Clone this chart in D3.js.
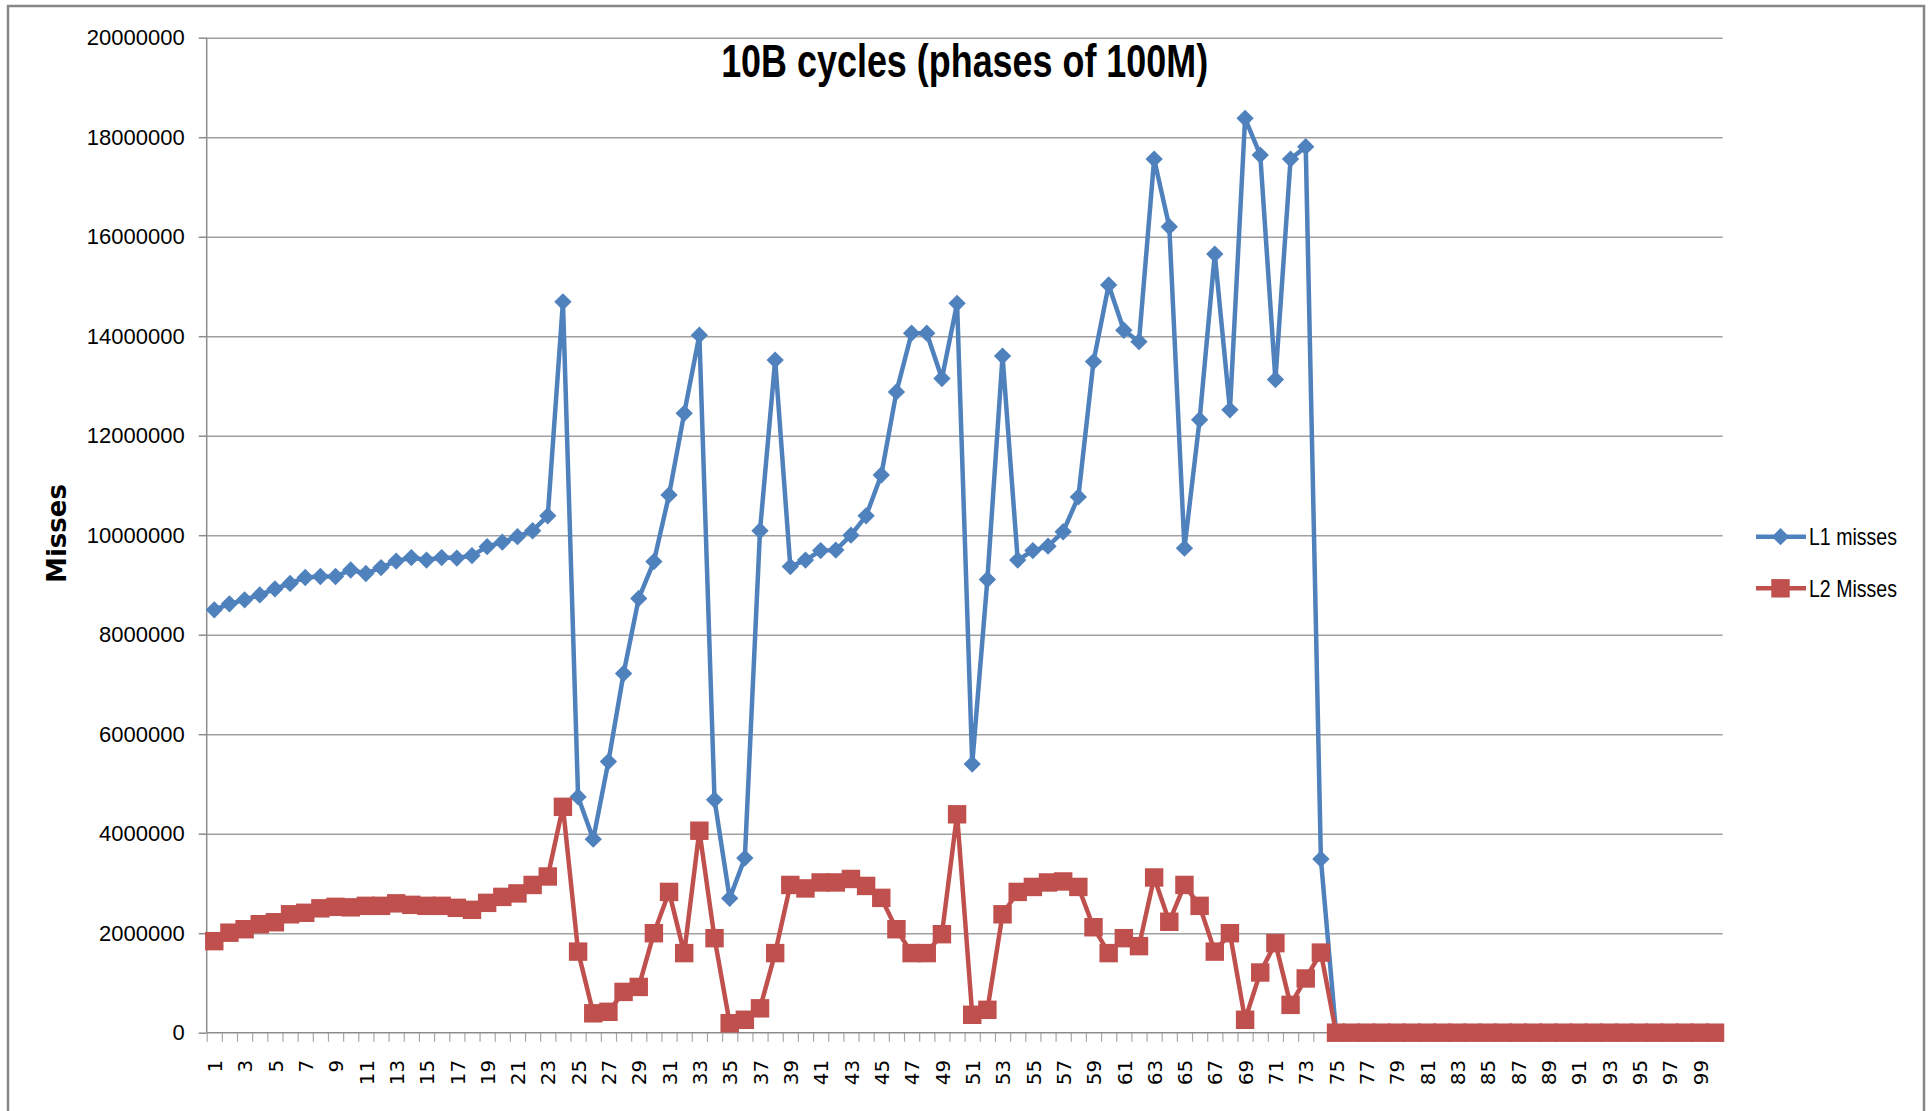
<!DOCTYPE html>
<html lang="en">
<head>
<meta charset="utf-8">
<title>10B cycles (phases of 100M)</title>
<script src="https://d3js.org/d3.v7.min.js"></script>
<style>
  body { margin: 0; background: #fff; }
  svg { display: block; background: #fff; }
  .grid line { stroke: #a0a0a0; stroke-width: 1.5px; }
  .grid .domain { display: none; }
  .yaxis text { font-family: "Liberation Sans", Arial, sans-serif; font-size: 22px; fill: #000; }
  .xaxis text { font-family: "DejaVu Sans", Verdana, sans-serif; font-size: 20px; fill: #000; }
  .axis-line { stroke: #8c8c8c; stroke-width: 1.5px; }
  .title { font-family: "Liberation Sans", Arial, sans-serif; font-size: 46px; font-weight: bold; }
  .ytitle { font-family: "DejaVu Sans", Verdana, sans-serif; font-size: 26px; font-weight: bold; }
  .legend text { font-family: "Liberation Sans", Arial, sans-serif; font-size: 24px; }
</style>
</head>
<body>
<svg width="1931" height="1111"></svg>
<script>
// phases (x categories) 1..100
const phases = d3.range(1, 101);

// L1 misses per phase
const l1Misses = [
  8500000, 8620000, 8700000, 8800000, 8920000, 9030000, 9150000, 9170000, 9170000, 9300000,
  9230000, 9350000, 9480000, 9550000, 9500000, 9550000, 9540000, 9590000, 9770000, 9860000,
  9970000, 10090000, 10390000, 14690000, 4740000, 3890000, 5450000, 7220000, 8730000, 9470000,
  10810000, 12450000, 14020000, 4680000, 2700000, 3510000, 10090000, 13520000, 9370000, 9500000,
  9690000, 9700000, 10000000, 10390000, 11210000, 12880000, 14060000, 14060000, 13150000, 14660000,
  5400000, 9110000, 13600000, 9500000, 9690000, 9780000, 10070000, 10770000, 13490000, 15030000,
  14120000, 13890000, 17560000, 16200000, 9740000, 12320000, 15650000, 12520000, 18380000, 17640000,
  13130000, 17560000, 17810000, 3490000, 0, 0, 0, 0, 0, 0,
  0, 0, 0, 0, 0, 0, 0, 0, 0, 0,
  0, 0, 0, 0, 0, 0, 0, 0, 0, 0
];

// L2 misses per phase
const l2Misses = [
  1840000, 2010000, 2080000, 2180000, 2220000, 2380000, 2410000, 2500000, 2530000, 2520000,
  2550000, 2550000, 2600000, 2570000, 2550000, 2550000, 2510000, 2470000, 2610000, 2730000,
  2800000, 2970000, 3140000, 4540000, 1630000, 390000, 420000, 820000, 920000, 2000000,
  2830000, 1600000, 4060000, 1900000, 190000, 260000, 490000, 1600000, 2970000, 2900000,
  3020000, 3020000, 3090000, 2950000, 2710000, 2080000, 1600000, 1600000, 1980000, 4390000,
  360000, 460000, 2380000, 2830000, 2930000, 3020000, 3040000, 2930000, 2120000, 1600000,
  1900000, 1740000, 3120000, 2230000, 2970000, 2550000, 1630000, 2000000, 260000, 1210000,
  1800000, 560000, 1090000, 1610000, 0, 0, 0, 0, 0, 0,
  0, 0, 0, 0, 0, 0, 0, 0, 0, 0,
  0, 0, 0, 0, 0, 0, 0, 0, 0, 0
];

const yTicks = [0, 2000000, 4000000, 6000000, 8000000, 10000000, 12000000, 14000000, 16000000, 18000000, 20000000];
const seriesNames = ["L1 misses", "L2 Misses"];
const seriesColors = ["#4f81bd", "#c0504d"];

const svg = d3.select("svg");
const plotLeft = 206.7, plotRight = 1722.6, plotTop = 37.7, plotBottom = 1032.7;

// chart frame
svg.append("rect")
   .attr("x", 8).attr("y", 6)
   .attr("width", 1916).attr("height", 1130)
   .attr("fill", "none")
   .attr("stroke", "#868686")
   .attr("stroke-width", 2.5);

const x = d3.scaleLinear().domain([0.5, 100.5]).range([plotLeft, plotRight]);
const y = d3.scaleLinear().domain([0, 20000000]).range([plotBottom, plotTop]);

// gridlines
svg.append("g")
   .attr("class", "grid")
   .attr("transform", `translate(${plotLeft},0)`)
   .call(d3.axisLeft(y).tickValues(yTicks.slice(1)).tickSize(-(plotRight - plotLeft)).tickFormat(""));

// y axis
const yAxis = svg.append("g")
   .attr("class", "yaxis")
   .attr("transform", `translate(${plotLeft},0)`)
   .call(d3.axisLeft(y).tickValues(yTicks).tickSize(8).tickPadding(14).tickFormat(d3.format("d")));
yAxis.select(".domain").remove();
yAxis.selectAll(".tick line").attr("stroke", "#8c8c8c").attr("stroke-width", 1.5);

svg.append("line").attr("class", "axis-line")
   .attr("x1", plotLeft).attr("x2", plotLeft).attr("y1", plotTop).attr("y2", plotBottom);

// x axis: tick marks at category boundaries
const xTicks = svg.append("g")
   .attr("transform", `translate(0,${plotBottom})`)
   .call(d3.axisBottom(x).tickValues(d3.range(0.5, 101, 1)).tickSize(9).tickFormat(""));
xTicks.select(".domain").remove();
xTicks.selectAll(".tick line").attr("stroke", "#a6a6a6").attr("stroke-width", 1.2);

// x labels, every other phase
const xLabels = svg.append("g")
   .attr("class", "xaxis")
   .attr("transform", `translate(0,${plotBottom})`)
   .call(d3.axisBottom(x).tickValues(phases.filter(d => d % 2 === 1)).tickSize(0).tickFormat(d3.format("d")));
xLabels.select(".domain").remove();
xLabels.selectAll(".tick text")
   .attr("transform", "rotate(-90)")
   .attr("text-anchor", "end")
   .attr("x", -27)
   .attr("y", 0)
   .attr("dy", "0.36em");

svg.append("line").attr("class", "axis-line")
   .attr("x1", plotLeft).attr("x2", plotRight).attr("y1", plotBottom).attr("y2", plotBottom);

// series
const line = d3.line().x((d, i) => x(phases[i])).y(d => y(d));
const diamond = d3.symbol(d3.symbolSquare, 150);
const square = d3.symbol(d3.symbolSquare, 340);

svg.append("path")
   .datum(l1Misses)
   .attr("d", line)
   .attr("fill", "none")
   .attr("stroke", seriesColors[0])
   .attr("stroke-width", 4.5)
   .attr("stroke-linejoin", "round");

svg.append("g").selectAll("path")
   .data(l1Misses)
   .join("path")
   .attr("d", diamond)
   .attr("transform", (d, i) => `translate(${x(phases[i])},${y(d)}) rotate(45)`)
   .attr("fill", seriesColors[0]);

svg.append("path")
   .datum(l2Misses)
   .attr("d", line)
   .attr("fill", "none")
   .attr("stroke", seriesColors[1])
   .attr("stroke-width", 4.5)
   .attr("stroke-linejoin", "round");

svg.append("g").selectAll("path")
   .data(l2Misses)
   .join("path")
   .attr("d", square)
   .attr("transform", (d, i) => `translate(${x(phases[i])},${y(d)})`)
   .attr("fill", seriesColors[1]);

// title
svg.append("text")
   .attr("class", "title")
   .attr("x", (plotLeft + plotRight) / 2)
   .attr("y", 77)
   .attr("text-anchor", "middle")
   .attr("textLength", 487)
   .attr("lengthAdjust", "spacingAndGlyphs")
   .text("10B cycles (phases of 100M)");

// y axis title
svg.append("text")
   .attr("class", "ytitle")
   .attr("transform", "translate(66,533.5) rotate(-90)")
   .attr("text-anchor", "middle")
   .text("Misses");

// legend
const legend = svg.append("g").attr("class", "legend");
const legendY = [536.7, 588.3];
seriesNames.forEach((name, i) => {
  const g = legend.append("g").attr("transform", `translate(1756,${legendY[i]})`);
  g.append("line")
   .attr("x1", 0).attr("x2", 50)
   .attr("stroke", seriesColors[i])
   .attr("stroke-width", 4.5);
  g.append("path")
   .attr("d", i === 0 ? diamond : square)
   .attr("transform", i === 0 ? "translate(24.5,0) rotate(45)" : "translate(24.5,0)")
   .attr("fill", seriesColors[i]);
  g.append("text")
   .attr("x", 53)
   .attr("dy", "0.35em")
   .attr("textLength", 88)
   .attr("lengthAdjust", "spacingAndGlyphs")
   .text(name);
});
</script>
</body>
</html>
